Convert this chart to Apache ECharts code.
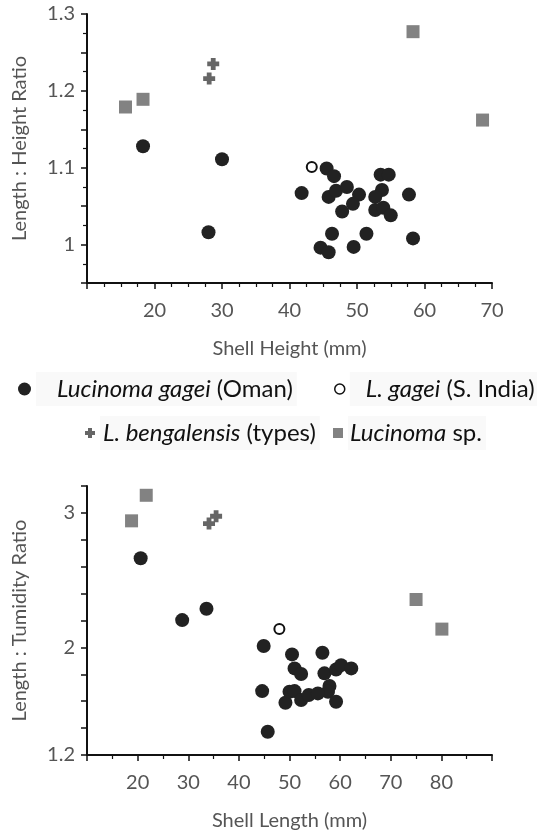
<!DOCTYPE html>
<html>
<head>
<meta charset="utf-8">
<script src="https://cdn.jsdelivr.net/npm/echarts@6/dist/echarts.min.js"></script>
<style>
  html, body { margin: 0; padding: 0; background: #fff; }
  #chart { width: 537px; height: 833px; }
</style>
</head>
<body>
<div id="chart"></div>
<script>
// Top panel: Shell Height (mm) vs Length : Height ratio
const omanHeight = [
    [18.3, 1.128], [30.0, 1.111], [28.0, 1.016], [41.8, 1.067], [45.5, 1.099],
    [46.6, 1.089], [45.8, 1.062], [46.9, 1.070], [48.5, 1.075], [50.3, 1.065],
    [49.4, 1.053], [47.8, 1.043], [53.5, 1.091], [54.7, 1.091], [53.7, 1.071],
    [52.7, 1.062], [52.7, 1.045], [53.9, 1.048], [55.0, 1.038], [57.7, 1.065],
    [46.3, 1.014], [44.6, 0.996], [45.8, 0.990], [49.5, 0.997], [51.4, 1.014],
    [58.3, 1.008]
];
const indiaHeight = [[43.3, 1.101]];
const bengHeight = [[28.1, 1.216], [28.7, 1.235]];
const spHeight = [[15.7, 1.179], [18.3, 1.189], [58.3, 1.277], [68.6, 1.162]];

// Bottom panel: Shell Length (mm) vs Length : Tumidity ratio
const omanLength = [
    [20.6, 2.663], [28.8, 2.203], [33.6, 2.287], [44.9, 2.010], [44.6, 1.675],
    [45.7, 1.373], [50.5, 1.948], [56.5, 1.960], [51.0, 1.844], [52.3, 1.802],
    [56.9, 1.807], [59.2, 1.836], [60.2, 1.868], [62.2, 1.844], [57.9, 1.713],
    [57.6, 1.670], [59.2, 1.596], [49.2, 1.589], [50.0, 1.670], [51.0, 1.675],
    [52.3, 1.609], [53.8, 1.646], [55.6, 1.658]
];
const indiaLength = [[48.0, 2.136]];
const bengLength = [[34.1, 2.921], [35.5, 2.975]];
const spLength = [[18.8, 2.941], [21.7, 3.131], [75.0, 2.356], [80.1, 2.136]];

// tick labels
const topXLabels = [20, 30, 40, 50, 60, 70];
const topYLabels = [1, 1.1, 1.2, 1.3];
const botXLabels = [20, 30, 40, 50, 60, 70, 80];
const botYLabels = [1.2, 2, 3];

const seriesNames = ["Lucinoma gagei (Oman)", "L. gagei (S. India)", "L. bengalensis (types)", "Lucinoma sp."];
const legendText = {
    "Lucinoma gagei (Oman)": "{i|Lucinoma gagei} (Oman)",
    "L. gagei (S. India)": "{i|L. gagei} (S. India)",
    "L. bengalensis (types)": "{i|L. bengalensis} (types)",
    "Lucinoma sp.": "{i|Lucinoma} sp."
};

const FONT = "Lato";
const CROSS = "path://M3,0H7V3H10V7H7V10H3V7H0V3H3Z";

function pickLabel(list) {
    return function (v) {
        for (const t of list) {
            if (Math.abs(v - t) < 1e-6) return String(t);
        }
        return "";
    };
}

function makeX(gridIndex, max, minorSplit, labels) {
    return {
        type: "value", gridIndex: gridIndex, min: 10, max: max, interval: 10,
        name: gridIndex === 0 ? "Shell Height (mm)" : "Shell Length (mm)",
        nameLocation: "middle", nameGap: 56,
        nameTextStyle: { fontFamily: FONT, fontSize: 20, color: "#555" },
        axisLine: { onZero: false, lineStyle: { color: "#111", width: 2 } },
        axisTick: { length: 6, lineStyle: { color: "#111", width: 1.5 } },
        minorTick: { show: true, splitNumber: minorSplit, length: 4, lineStyle: { color: "#111", width: 1.2 } },
        axisLabel: { margin: 18, fontFamily: FONT, fontSize: 20, color: "#555", formatter: pickLabel(labels) },
        splitLine: { show: false }
    };
}

function makeY(gridIndex, min, max, interval, minorSplit, labels) {
    return {
        type: "value", gridIndex: gridIndex, min: min, max: max, interval: interval,
        name: gridIndex === 0 ? "Length : Height Ratio" : "Length : Tumidity Ratio",
        nameLocation: "middle", nameGap: 57,
        nameTextStyle: { fontFamily: FONT, fontSize: 20, color: "#555" },
        axisLine: { onZero: false, lineStyle: { color: "#111", width: 2 } },
        axisTick: { length: 6, lineStyle: { color: "#111", width: 1.5 } },
        minorTick: { show: minorSplit > 1, splitNumber: minorSplit, length: 4, lineStyle: { color: "#111", width: 1.2 } },
        axisLabel: { margin: 12, fontFamily: FONT, fontSize: 20, color: "#555", formatter: pickLabel(labels) },
        splitLine: { show: false }
    };
}

function scatterSet(gridIndex, oman, india, beng, sp) {
    return [
        { name: seriesNames[0], type: "scatter", xAxisIndex: gridIndex, yAxisIndex: gridIndex,
          data: oman, symbol: "circle", symbolSize: 14, itemStyle: { color: "#222", opacity: 1 } },
        { name: seriesNames[1], type: "scatter", xAxisIndex: gridIndex, yAxisIndex: gridIndex,
          data: india, symbol: "circle", symbolSize: 10,
          itemStyle: { color: "#fff", borderColor: "#111", borderWidth: 2, opacity: 1 } },
        { name: seriesNames[2], type: "scatter", xAxisIndex: gridIndex, yAxisIndex: gridIndex,
          data: beng, symbol: CROSS, symbolSize: 12, itemStyle: { color: "#666", opacity: 1 } },
        { name: seriesNames[3], type: "scatter", xAxisIndex: gridIndex, yAxisIndex: gridIndex,
          data: sp, symbol: "rect", symbolSize: 13, itemStyle: { color: "#828282", opacity: 1 } }
    ];
}

function legendItem(name, icon, size, left, top, padLeft, itemStyle) {
    return {
        data: [{ name: name, icon: icon, itemStyle: itemStyle }],
        left: left, top: top, padding: 0,
        itemWidth: size, itemHeight: size,
        selectedMode: false,
        formatter: function (n) { return legendText[n]; },
        textStyle: {
            fontFamily: FONT, fontSize: 24, color: "#111", lineHeight: 28,
            backgroundColor: "#f9f9f9", padding: [3, 4, 3, padLeft],
            rich: { i: { fontFamily: FONT, fontSize: 24, fontStyle: "italic", color: "#111", lineHeight: 28 } }
        }
    };
}

const chart = echarts.init(document.getElementById("chart"), null, { renderer: "canvas" });

chart.setOption({
    animation: false,
    backgroundColor: "#fff",
    grid: [
        { left: 87, top: 14, width: 405, height: 269 },
        { left: 87, top: 486, width: 405, height: 269 }
    ],
    xAxis: [makeX(0, 70, 4, topXLabels), makeX(1, 90, 2, botXLabels)],
    yAxis: [makeY(0, 0.95, 1.3, 0.05, 2, topYLabels), makeY(1, 1.2, 3.2, 0.2, 1, botYLabels)],
    legend: [
        legendItem(seriesNames[0], "circle", 13, 18, 372, 21, { color: "#222" }),
        legendItem(seriesNames[1], "circle", 10, 334, 372, 16, { color: "#fff", borderColor: "#111", borderWidth: 1.5 }),
        legendItem(seriesNames[2], CROSS, 10, 85, 416, 3, { color: "#666" }),
        legendItem(seriesNames[3], "rect", 10, 333, 416, 2, { color: "#828282" })
    ],
    series: scatterSet(0, omanHeight, indiaHeight, bengHeight, spHeight)
        .concat(scatterSet(1, omanLength, indiaLength, bengLength, spLength))
});
</script>
</body>
</html>
